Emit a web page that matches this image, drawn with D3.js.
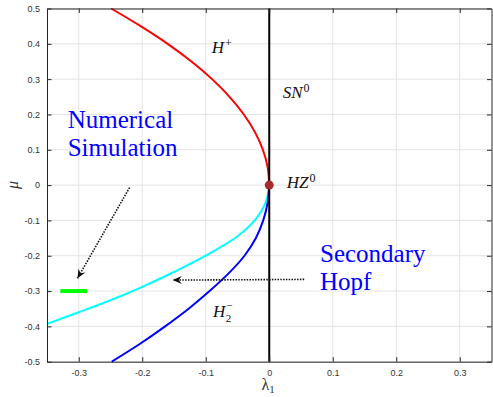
<!DOCTYPE html>
<html>
<head>
<meta charset="utf-8">
<script src="https://cdn.jsdelivr.net/npm/d3@7"></script>
<style>
  body { margin: 0; background: #fff; }
  svg { display: block; }
</style>
</head>
<body>
<div id="chart"></div>
<script>
// tick values
var xTicks = [-0.3, -0.2, -0.1, 0, 0.1, 0.2, 0.3]
var yTicks = [-0.5, -0.4, -0.3, -0.2, -0.1, 0, 0.1, 0.2, 0.3, 0.4, 0.5]

// H+ branch (red)
var redMu = [0, 0.05, 0.1, 0.15, 0.2, 0.25, 0.3, 0.35, 0.4, 0.45, 0.5]
var redLam = [0, -0.0025, -0.01, -0.0225, -0.04, -0.0625, -0.09, -0.1225, -0.16, -0.2025, -0.249]

// secondary hopf branch (cyan)
var cyanMu = [-0.393, -0.36, -0.326, -0.288, -0.246, -0.2, -0.145, -0.1, -0.05, 0]
var cyanLam = [-0.35, -0.3, -0.25, -0.2, -0.15, -0.1, -0.05, -0.023, -0.006, 0]

// H2- branch (blue)
var blueMu = [-0.5, -0.45, -0.4, -0.35, -0.3, -0.25, -0.2, -0.15, -0.1, -0.05, 0]
var blueLam = [-0.248, -0.204, -0.164, -0.127, -0.094, -0.064, -0.039, -0.021, -0.0095, -0.0025, 0]

// SN0 line and HZ0 point
var snMu = [-0.5, 0.5]
var snLam = [0, 0]
var hzPoint = [0, 0]

// numerical simulation bar (green)
var simLam = [-0.329, -0.287]
var simMu = [-0.3, -0.3]

// annotation arrows [lambda, mu] from -> to
var arrowSim = [[-0.22, -0.007], [-0.302, -0.264]]
var arrowHopf = [[0.055, -0.267], [-0.152, -0.269]]

var margin = { top: 8.5, left: 47, right: 1.5, bottom: 35.3 }
var width = 493 - margin.left - margin.right
var height = 397 - margin.top - margin.bottom

var svg = d3
  .select('#chart')
  .append('svg')
  .attr('width', 493)
  .attr('height', 397)

var g = svg
  .append('g')
  .attr('transform', 'translate(' + margin.left + ',' + margin.top + ')')

var xScale = d3.scaleLinear().domain([-0.35, 0.35]).range([0, width])
var yScale = d3.scaleLinear().domain([-0.5, 0.5]).range([height, 0])

svg
  .append('defs')
  .append('marker')
  .attr('id', 'head')
  .attr('viewBox', '-10 -6 12 12')
  .attr('refX', 0)
  .attr('refY', 0)
  .attr('markerWidth', 12)
  .attr('markerHeight', 12)
  .attr('markerUnits', 'userSpaceOnUse')
  .attr('orient', 'auto')
  .append('path')
  .attr('d', 'M0,0 L-9,-4 L-6,0 L-9,4 Z')
  .attr('fill', '#111')

// grid
g.selectAll('.gx')
  .data(xTicks)
  .enter()
  .append('line')
  .attr('x1', d => xScale(d))
  .attr('x2', d => xScale(d))
  .attr('y1', 0)
  .attr('y2', height)
  .attr('stroke', '#e3e3e3')
  .attr('stroke-width', 1)

g.selectAll('.gy')
  .data(yTicks)
  .enter()
  .append('line')
  .attr('x1', 0)
  .attr('x2', width)
  .attr('y1', d => yScale(d))
  .attr('y2', d => yScale(d))
  .attr('stroke', '#e3e3e3')
  .attr('stroke-width', 1)

// curves
function series(mu, lam) {
  return mu.map((m, i) => ({ mu: m, lam: lam[i] }))
}

var line = d3
  .line()
  .x(d => xScale(d.lam))
  .y(d => yScale(d.mu))
  .curve(d3.curveCatmullRom.alpha(0.5))

g.append('path')
  .datum(series(redMu, redLam))
  .attr('d', line)
  .attr('fill', 'none')
  .attr('stroke', '#ff0000')
  .attr('stroke-width', 2)

g.append('path')
  .datum(series(cyanMu, cyanLam))
  .attr('d', line)
  .attr('fill', 'none')
  .attr('stroke', '#00ffff')
  .attr('stroke-width', 2)

g.append('path')
  .datum(series(blueMu, blueLam))
  .attr('d', line)
  .attr('fill', 'none')
  .attr('stroke', '#0000ff')
  .attr('stroke-width', 2)

g.append('path')
  .datum(series(snMu, snLam))
  .attr('d', d3.line().x(d => xScale(d.lam)).y(d => yScale(d.mu)))
  .attr('fill', 'none')
  .attr('stroke', '#000')
  .attr('stroke-width', 2)

g.append('line')
  .attr('x1', xScale(simLam[0]))
  .attr('x2', xScale(simLam[1]))
  .attr('y1', yScale(simMu[0]))
  .attr('y2', yScale(simMu[1]))
  .attr('stroke', '#00ff00')
  .attr('stroke-width', 4)

g.append('circle')
  .attr('cx', xScale(hzPoint[0]))
  .attr('cy', yScale(hzPoint[1]))
  .attr('r', 4.5)
  .attr('fill', '#a52a2a')

// dotted arrows
;[arrowSim, arrowHopf].forEach(a => {
  g.append('line')
    .attr('x1', xScale(a[0][0]))
    .attr('y1', yScale(a[0][1]))
    .attr('x2', xScale(a[1][0]))
    .attr('y2', yScale(a[1][1]))
    .attr('stroke', '#111')
    .attr('stroke-width', 1.6)
    .attr('stroke-dasharray', '1.5,1.3')
    .attr('marker-end', 'url(#head)')
})

// axes (ticks inward, box on)
var fmt = d => String(d)

g.append('g')
  .attr('transform', 'translate(0,' + height + ')')
  .call(d3.axisBottom(xScale).tickValues(xTicks).tickSize(-4.5).tickSizeOuter(0).tickPadding(8).tickFormat(fmt))

g.append('g')
  .call(d3.axisLeft(yScale).tickValues(yTicks).tickSize(-4.5).tickSizeOuter(0).tickPadding(7).tickFormat(fmt))

g.append('g')
  .call(d3.axisTop(xScale).tickValues(xTicks).tickSize(-4.5).tickSizeOuter(0).tickFormat(''))

g.append('g')
  .attr('transform', 'translate(' + width + ',0)')
  .call(d3.axisRight(yScale).tickValues(yTicks).tickSize(-4.5).tickSizeOuter(0).tickFormat(''))

g.selectAll('.domain').attr('stroke', '#262626')
g.selectAll('.tick line').attr('stroke', '#262626')
g.selectAll('.tick text')
  .attr('fill', '#333')
  .attr('font-family', 'Liberation Sans, Arial, sans-serif')
  .attr('font-size', 9)

// labels
var serif = 'Liberation Serif, Times New Roman, serif'

function blueText(lines, x, y) {
  var t = g.append('text')
    .attr('font-family', serif)
    .attr('font-size', 25)
    .attr('fill', '#0000ff')
  lines.forEach((s, i) => {
    t.append('tspan').attr('x', x).attr('y', y + i * 28).text(s)
  })
}
blueText(['Numerical', 'Simulation'], 67.7 - margin.left, 128.3 - margin.top)
blueText(['Secondary', 'Hopf'], 320 - margin.left, 261.7 - margin.top)

// math labels: italic base with a small upright superscript / subscript
function mathLabel(x, y, base, sup, sub) {
  var t = g.append('text')
    .attr('x', x - margin.left)
    .attr('y', y - margin.top)
    .attr('font-family', serif)
    .attr('font-size', 17)
    .attr('fill', '#111')
  var b = t.append('tspan').attr('font-style', 'italic').text(base)
  var w = b.node().getComputedTextLength()
  if (sub) {
    t.append('tspan')
      .attr('font-size', 11)
      .attr('x', x - margin.left + w + 0.5)
      .attr('y', y - margin.top + 5.5)
      .text(sub)
  }
  if (sup) {
    t.append('tspan')
      .attr('font-size', sub ? 11 : 12)
      .attr('x', x - margin.left + w + 1)
      .attr('y', y - margin.top - (sub ? 8 : 6))
      .text(sup)
  }
}
mathLabel(211.7, 52.7, 'H', '+')
mathLabel(282.7, 98.3, 'SN', '0')
mathLabel(286.7, 188.3, 'HZ', '0')
mathLabel(213, 316.7, 'H', '\u2212', '2')

// axis titles
svg.append('text')
  .attr('transform', 'translate(18,185) rotate(-90)')
  .attr('text-anchor', 'middle')
  .attr('font-family', serif)
  .attr('font-style', 'italic')
  .attr('font-size', 16)
  .attr('fill', '#333')
  .text('\u03bc')

var xl = svg.append('text')
  .attr('x', 261.5)
  .attr('y', 390)
  .attr('font-family', serif)
  .attr('font-size', 16)
  .attr('fill', '#333')
xl.append('tspan').text('\u03bb')
xl.append('tspan').attr('font-size', 11).attr('dy', 3).text('1')
</script>
</body>
</html>
